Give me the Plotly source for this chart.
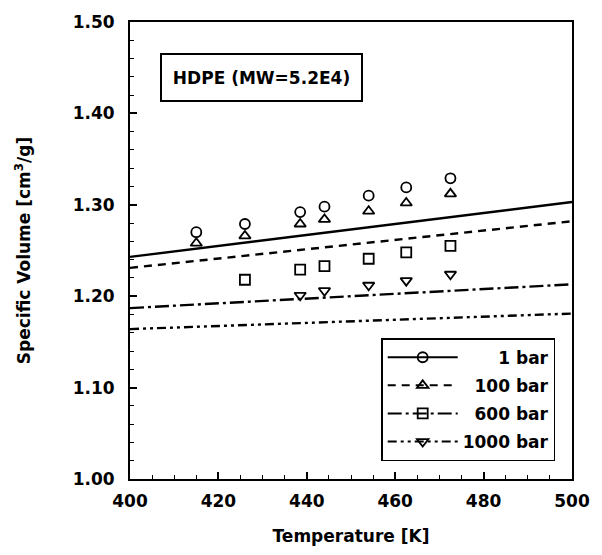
import plotly.graph_objects as go

# ---- data ----
model_T = [400, 500]
model_1bar = [1.243, 1.303]
model_100bar = [1.231, 1.282]
model_600bar = [1.187, 1.213]
model_1000bar = [1.164, 1.181]

exp_T_1bar = [415, 426, 438.5, 444, 454, 462.5, 472.5]
exp_V_1bar = [1.270, 1.279, 1.292, 1.298, 1.310, 1.319, 1.329]
exp_T_100bar = [415, 426, 438.5, 444, 454, 462.5, 472.5]
exp_V_100bar = [1.258, 1.266, 1.279, 1.284, 1.293, 1.302, 1.312]
exp_T_600bar = [426, 438.5, 444, 454, 462.5, 472.5]
exp_V_600bar = [1.218, 1.229, 1.233, 1.241, 1.248, 1.255]
exp_T_1000bar = [438.5, 444, 454, 462.5, 472.5]
exp_V_1000bar = [1.201, 1.206, 1.212, 1.217, 1.224]

labels = ["1 bar", "100 bar", "600 bar", "1000 bar"]
x_ticks = [400, 420, 440, 460, 480, 500]
y_ticks = [1.00, 1.10, 1.20, 1.30, 1.40, 1.50]

FONT = "DejaVu Sans"
symbols = ["circle-open", "triangle-up-open", "square-open", "triangle-down-open"]
dashes = ["solid", "8px,6px", "14px,4px,3px,4px", "9px,4px,3px,4px,3px,4px"]
models = [model_1bar, model_100bar, model_600bar, model_1000bar]
exps = [(exp_T_1bar, exp_V_1bar), (exp_T_100bar, exp_V_100bar),
        (exp_T_600bar, exp_V_600bar), (exp_T_1000bar, exp_V_1000bar)]
pads = ["\u00a0" * 6, "\u00a0" * 2, "\u00a0" * 2, ""]

fig = go.Figure()
for i in range(4):
    fig.add_trace(go.Scatter(x=model_T, y=models[i], mode="lines",
                             line=dict(color="black", width=2.4, dash=dashes[i]),
                             showlegend=False, hoverinfo="skip"))
    fig.add_trace(go.Scatter(x=exps[i][0], y=exps[i][1], mode="markers",
                             marker=dict(symbol=symbols[i], size=10, color="black",
                                         line=dict(width=1.8, color="black")),
                             showlegend=False))
    fig.add_trace(go.Scatter(x=[None], y=[None], mode="lines+markers",
                             name=pads[i] + labels[i], legendgroup=labels[i],
                             line=dict(color="black", width=2, dash=dashes[i]),
                             marker=dict(symbol=symbols[i], size=10, color="black",
                                         line=dict(width=1.8, color="black"))))

fig.add_annotation(x=0.2967, y=0.878, xref="paper", yref="paper",
                   xanchor="center", yanchor="middle",
                   text="HDPE (MW=5.2E4)", showarrow=False,
                   font=dict(family=FONT, size=17, color="black", weight="bold"),
                   width=199, height=45, borderpad=0,
                   bordercolor="black", borderwidth=2, bgcolor="white")

axis_common = dict(showline=True, linecolor="black", linewidth=2, mirror=True,
                   ticks="inside", tickcolor="black", tickwidth=1.5, ticklen=7,
                   showgrid=False, zeroline=False,
                   tickfont=dict(family=FONT, size=17, color="black", weight="bold"),
                   title_font=dict(family=FONT, size=17, color="black", weight="bold"))

fig.update_xaxes(range=[400, 500], tickvals=x_ticks, ticktext=[str(v) for v in x_ticks],
                 minor=dict(dtick=5, ticks="inside", ticklen=4, tickcolor="black", tickwidth=1.2),
                 title_text="Temperature [K]", title_standoff=20,
                 ticklabelstandoff=6, **axis_common)
fig.update_yaxes(range=[1.0, 1.5], tickvals=y_ticks, ticktext=[f"{v:.2f}" for v in y_ticks],
                 minor=dict(dtick=0.02, ticks="inside", ticklen=4, tickcolor="black", tickwidth=1.2),
                 title_text="Specific Volume [cm<sup>3</sup>/g]", title_standoff=38,
                 ticklabelstandoff=10, **axis_common)

fig.update_layout(
    width=602, height=555,
    margin=dict(l=130, r=22, t=16, b=76),
    paper_bgcolor="white", plot_bgcolor="white",
    font=dict(family=FONT, size=17, color="black"),
    legend=dict(x=0.962, y=0.039, xanchor="right", yanchor="bottom",
                bordercolor="black", borderwidth=1.5, bgcolor="white",
                font=dict(family=FONT, size=17, color="black", weight="bold"),
                itemwidth=70, tracegroupgap=3, traceorder="grouped"),
)

fig.write_html("out.html")
